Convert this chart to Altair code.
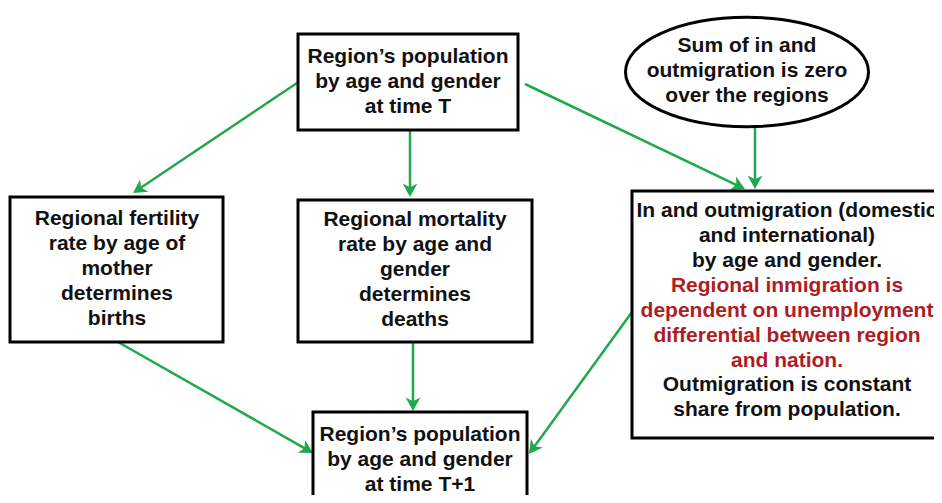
import math
import altair as alt
import pandas as pd

# ---- data (reference pixel coordinates) ----
box_names = ["pop_T", "fertility", "mortality", "migration", "pop_T1"]
box_x1 = [298, 10, 298, 632, 313]
box_x2 = [518, 223, 532, 948, 527]
box_y1 = [34, 197, 200, 191, 412]
box_y2 = [130, 342, 342, 438, 515]

ell_x = [747]
ell_y = [72]

text_blocks = [
    "Region\u2019s population\nby age and gender\nat time  T",
    "Sum of in and\noutmigration  is zero\nover the regions",
    "Regional fertility\nrate by age of\nmother\ndetermines\nbirths",
    "Regional mortality\nrate by age and\ngender\ndetermines\ndeaths",
    "In and outmigration  (domestic\nand international)\nby age and gender.",
    "Regional inmigration  is\ndependent on unemployment\ndifferential between region\nand nation.",
    "Outmigration  is constant\nshare from population.",
    "Region\u2019s population\nby age and gender\nat time  T+1",
]
text_x = [408, 747, 117, 415, 787, 787, 787, 420]
# y of the first line of each block
text_y = [57, 46, 219, 220, 211, 286, 385, 435]
text_color = ["black", "black", "black", "black", "black", "red", "black", "black"]

arr_x1 = [297, 410, 525, 755, 118, 413, 632]
arr_y1 = [83, 130, 84, 127, 342, 342, 312]
arr_x2 = [133, 410, 745, 755, 313, 413, 529]
arr_y2 = [193, 197, 189, 189, 453, 411, 454]

GREEN = "#21a84f"
RED = "#ad1d25"

boxes = pd.DataFrame({"name": box_names, "x1": box_x1, "x2": box_x2, "y1": box_y1, "y2": box_y2})
ell = pd.DataFrame({"x": ell_x, "y": ell_y})
texts = pd.DataFrame({"t": text_blocks, "x": text_x, "y": text_y, "c": text_color})

arrows = pd.DataFrame({"x1": arr_x1, "y1": arr_y1, "x2": arr_x2, "y2": arr_y2})
dx = arrows.x2 - arrows.x1
dy = arrows.y2 - arrows.y1
length = (dx ** 2 + dy ** 2) ** 0.5
arrows["ex"] = arrows.x2 - dx / length * 8
arrows["ey"] = arrows.y2 - dy / length * 8
arrows["ang"] = [(math.degrees(math.atan2(a, -b)) + 360) % 360 for a, b in zip(dx, dy)]

W, H = 926, 487
xs = alt.Scale(domain=[8, 8 + W], nice=False, zero=False)
ys = alt.Scale(domain=[8, 8 + H], nice=False, zero=False, reverse=True)

X = lambda f: alt.X(f, type="quantitative", scale=xs, axis=None)
Y = lambda f: alt.Y(f, type="quantitative", scale=ys, axis=None)

lines = alt.Chart(arrows).mark_rule(color=GREEN, strokeWidth=2.5).encode(
    x=X("x1"), y=Y("y1"), x2="ex", y2="ey"
)

heads = alt.Chart(arrows).mark_point(
    shape="M 0 0 L 0.55 1 L 0 0.72 L -0.55 1 Z",
    size=720, filled=True, color=GREEN, opacity=1,
).encode(x=X("x2"), y=Y("y2"), angle=alt.Angle("ang:Q", scale=None))

rects = alt.Chart(boxes).mark_rect(fill="white", stroke="black", strokeWidth=3).encode(
    x=X("x1"), x2="x2", y=Y("y1"), y2="y2"
)

ellipse = alt.Chart(ell).mark_point(
    shape="M -1 0 A 1 0.45 0 1 1 1 0 A 1 0.45 0 1 1 -1 0 Z",
    size=243 * 243, filled=True, fill="white", stroke="black", strokeWidth=3,
    opacity=1, fillOpacity=1, strokeOpacity=1,
).encode(x=X("x"), y=Y("y"))

labels = alt.Chart(texts).mark_text(
    font="Liberation Sans", fontSize=21, fontWeight="bold", lineHeight=25,
    align="center", baseline="middle", lineBreak="\n",
).encode(
    x=X("x"), y=Y("y"), text="t:N",
    color=alt.Color("c:N", scale=alt.Scale(domain=["black", "red"], range=["#111111", RED]), legend=None),
)

chart = alt.layer(lines, heads, rects, ellipse, labels).properties(
    width=W, height=H, padding=0, autosize=alt.AutoSizeParams(type="none"), background="white"
).configure_view(stroke=None)

chart.save("out.html", embed_options={"renderer": "svg", "actions": False})
